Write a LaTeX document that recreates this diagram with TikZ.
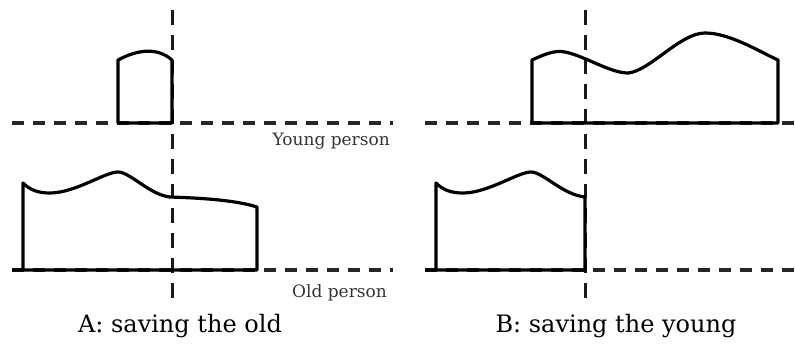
\documentclass[tikz,border=0pt]{standalone}
\usepackage{fontspec}
\setmainfont{DejaVu Serif}
\begin{document}
\begin{tikzpicture}[x=1pt,y=-1pt,
  axis/.style={line width=3.4pt,dash pattern=on 12pt off 9pt,draw=black!85},
  vaxis/.style={line width=3pt,dash pattern=on 14.8pt off 10pt,draw=black!90},
  outline/.style={line width=3.2pt,line join=round},
  small/.style={font=\fontsize{17}{20}\selectfont,inner sep=0pt,text=black!80},
  big/.style={font=\fontsize{24}{28}\selectfont,inner sep=0pt}]
\useasboundingbox (0,0) rectangle (795,353);
% ---------- Panel A ----------
\coordinate (aYl) at (12,123);
\coordinate (aYr) at (393,123);
\coordinate (aOl) at (12,270);
\coordinate (aOr) at (393,270);
\coordinate (aVt) at (172,10);
\coordinate (aVb) at (172,298);
\draw[axis] (aYl) -- (aYr);
\draw[axis] (aOl) -- (aOr);
\draw[vaxis] (aVt) -- (aVb);
% young (small box)
\draw[outline] (118,123) -- (118,60) .. controls (133,52) and (155,45) .. (172,60) -- (172,123) -- cycle;
% old
\draw[outline] (12,270) -- (257,270) -- (257,207)
  .. controls (235,200) and (200,198) .. (170,197)
  .. controls (150,195) and (130,172) .. (118,172)
  .. controls (105,172) and (75,193) .. (50,193)
  .. controls (38,193) and (30,190) .. (23,183) -- (23,270);
\node[small,anchor=east] (yA) at (390,141) {Young person};
\node[small,anchor=east] (oA) at (387,293) {Old person};
\node[big] (tA) at (180,326) {A: saving the old};
% ---------- Panel B ----------
\coordinate (bYl) at (425,123);
\coordinate (bYr) at (795,123);
\coordinate (bOl) at (425,270);
\coordinate (bOr) at (795,270);
\coordinate (bVt) at (585,10);
\coordinate (bVb) at (585,298);
\draw[axis] (bYl) -- (bYr);
\draw[axis] (bOl) -- (bOr);
\draw[vaxis] (bVt) -- (bVb);
% young (wide)
\draw[outline] (532,123) -- (532,60)
  .. controls (545,54) and (555,50) .. (565,52)
  .. controls (585,56) and (610,73) .. (628,73)
  .. controls (650,71) and (680,33) .. (705,33)
  .. controls (730,33) and (760,52) .. (778,60) -- (778,123) -- cycle;
% old
\draw[outline] (425,270) -- (585,270) -- (585,197)
  .. controls (563,195) and (543,172) .. (531,172)
  .. controls (518,172) and (488,193) .. (463,193)
  .. controls (451,193) and (443,190) .. (436,183) -- (436,270);
\node[big] (tB) at (616,326) {B: saving the young};
\end{tikzpicture}
\end{document}
